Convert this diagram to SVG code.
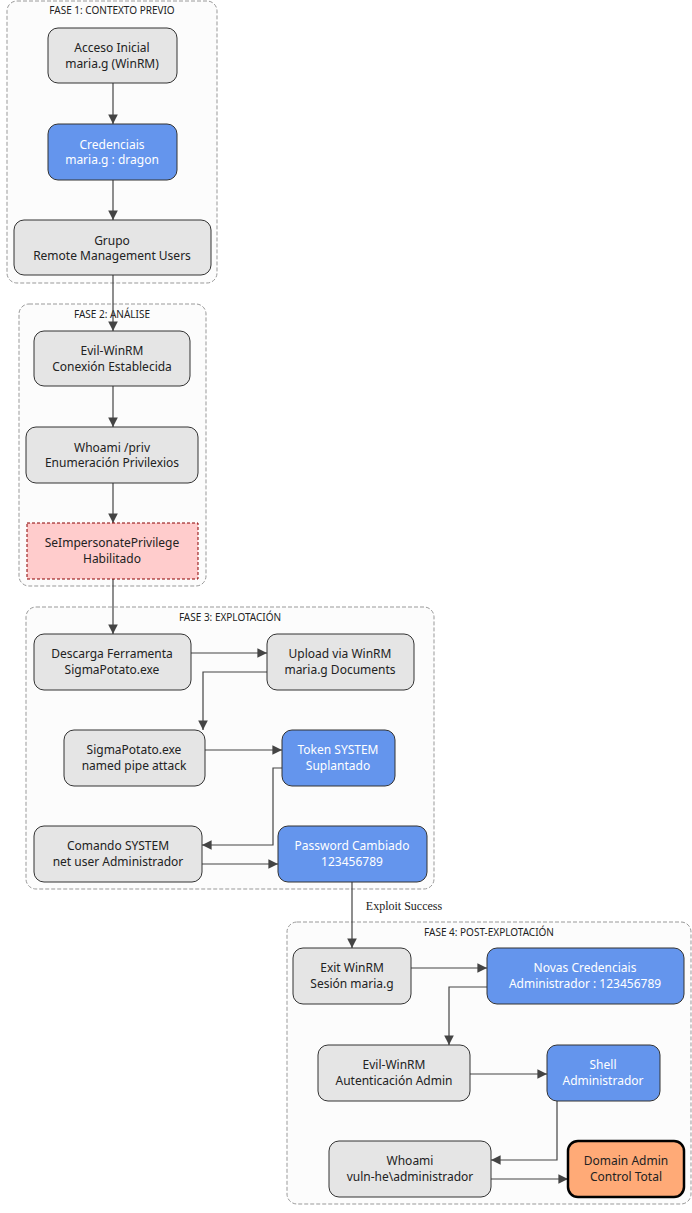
<svg xmlns="http://www.w3.org/2000/svg" width="692" height="1213" viewBox="0 0 692 1213">
<style>
text{font-family:"Noto Sans","DejaVu Sans",sans-serif;font-size:12px;text-anchor:middle;fill:#222}
.cl{fill:#fcfcfc;stroke:#999;stroke-dasharray:4 2;stroke-width:1}
.cl+text{font-size:10px}
.n rect{fill:#e5e5e5;stroke:#333;stroke-width:1}
.b rect{fill:#6495ed;stroke:#333}
.b text{fill:#fff}
.e path{fill:none;stroke:#444;stroke-width:1.2;marker-end:url(#a)}
</style>
<defs><marker id="a" viewBox="0 0 10 10" refX="10" refY="5" markerWidth="8" markerHeight="8" orient="auto"><path d="M0 0L10 5L0 10z" fill="#444"/></marker></defs>
<rect class="cl" x="7" y="1" width="210" height="282" rx="10"/><text x="112" y="14" style="font-size:10px">FASE 1: CONTEXTO PREVIO</text>
<rect class="cl" x="19" y="304" width="187" height="282" rx="10"/><text x="112" y="318" style="font-size:10px">FASE 2: ANÁLISE</text>
<rect class="cl" x="26" y="607" width="408" height="282" rx="10"/><text x="230" y="621" style="font-size:10px">FASE 3: EXPLOTACIÓN</text>
<rect class="cl" x="287" y="922" width="404" height="282" rx="10"/><text x="489" y="936" style="font-size:10px">FASE 4: POST-EXPLOTACIÓN</text>
<g class="e">
<path d="M113 83V124"/><path d="M113 180V220"/><path d="M113 275V331"/><path d="M113 386V427"/><path d="M113 483V523"/><path d="M113 579V634"/>
<path d="M191 653H267"/><path d="M267 672H203V730"/><path d="M205 750H282"/><path d="M282 768H273V845H202"/><path d="M202 864H278"/>
<path d="M352 882V948"/>
<path d="M411 968H487"/><path d="M487 987H449V1045"/><path d="M470 1074H547"/><path d="M557 1101V1160H491"/><path d="M491 1179H568"/>
</g>
<text x="404" y="910" style="font-family:'Liberation Serif',serif;font-size:12px">Exploit Success</text>
<g id="acceso" class="n"><rect x="48" y="28" width="129" height="55" rx="10"/><text x="112" y="52">Acceso Inicial</text><text x="112" y="68">maria.g (WinRM)</text></g>
<g id="cred" class="n b"><rect x="48" y="124" width="129" height="56" rx="10"/><text x="112" y="149">Credenciais</text><text x="112" y="164">maria.g : dragon</text></g>
<g id="grupo" class="n"><rect x="14" y="220" width="197" height="55" rx="10"/><text x="112" y="245">Grupo</text><text x="112" y="260">Remote Management Users</text></g>
<g id="evil" class="n"><rect x="34" y="331" width="156" height="55" rx="10"/><text x="112" y="355">Evil-WinRM</text><text x="112" y="371">Conexión Establecida</text></g>
<g id="whoamip" class="n"><rect x="26" y="427" width="172" height="56" rx="10"/><text x="112" y="452">Whoami /priv</text><text x="112" y="467">Enumeración Privilexios</text></g>
<g id="seimp"><rect x="27" y="523" width="171" height="56" fill="#ffcccc" stroke="#8b0000" stroke-dasharray="3 2"/><text x="112" y="547">SeImpersonatePrivilege</text><text x="112" y="563">Habilitado</text></g>
<g id="descarga" class="n"><rect x="34" y="634" width="157" height="56" rx="10"/><text x="112" y="658">Descarga Ferramenta</text><text x="112" y="674">SigmaPotato.exe</text></g>
<g id="upload" class="n"><rect x="267" y="634" width="147" height="56" rx="10"/><text x="340" y="658">Upload via WinRM</text><text x="340" y="674">maria.g Documents</text></g>
<g id="sigma" class="n"><rect x="64" y="730" width="141" height="56" rx="10"/><text x="134" y="754">SigmaPotato.exe</text><text x="134" y="770">named pipe attack</text></g>
<g id="token" class="n b"><rect x="282" y="730" width="113" height="56" rx="10"/><text x="338" y="754">Token SYSTEM</text><text x="338" y="770">Suplantado</text></g>
<g id="comando" class="n"><rect x="34" y="826" width="168" height="56" rx="10"/><text x="118" y="850">Comando SYSTEM</text><text x="118" y="866">net user Administrador</text></g>
<g id="password" class="n b"><rect x="278" y="826" width="149" height="56" rx="10"/><text x="352" y="850">Password Cambiado</text><text x="352" y="866">123456789</text></g>
<g id="exit" class="n"><rect x="293" y="948" width="118" height="56" rx="10"/><text x="352" y="972">Exit WinRM</text><text x="352" y="988">Sesión maria.g</text></g>
<g id="novas" class="n b"><rect x="487" y="948" width="197" height="56" rx="10"/><text x="585" y="972">Novas Credenciais</text><text x="585" y="988">Administrador : 123456789</text></g>
<g id="evil2" class="n"><rect x="318" y="1045" width="152" height="56" rx="10"/><text x="394" y="1069">Evil-WinRM</text><text x="394" y="1085">Autenticación Admin</text></g>
<g id="shell" class="n b"><rect x="547" y="1045" width="113" height="56" rx="10"/><text x="603" y="1069">Shell</text><text x="603" y="1085">Administrador</text></g>
<g id="whoami2" class="n"><rect x="329" y="1141" width="162" height="56" rx="10"/><text x="410" y="1165">Whoami</text><text x="410" y="1181">vuln-he\administrador</text></g>
<g id="domain"><rect x="568" y="1141" width="116" height="56" rx="10" fill="#ffaa77" stroke="#000" stroke-width="2.5"/><text x="626" y="1165">Domain Admin</text><text x="626" y="1181">Control Total</text></g>
</svg>
